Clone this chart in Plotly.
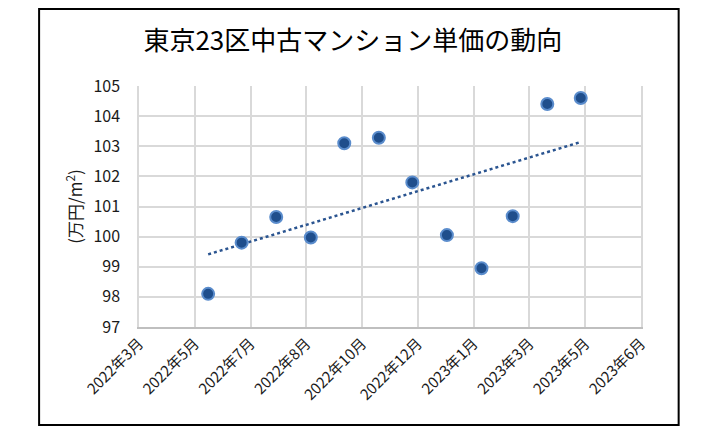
import numpy as np
import pandas as pd
import plotly.graph_objects as go

# monthly unit price (万円/m2), Tokyo 23 wards second-hand condos
months = ["2022-06-01", "2022-07-01", "2022-08-01", "2022-09-01", "2022-10-01", "2022-11-01",
          "2022-12-01", "2023-01-01", "2023-02-01", "2023-03-01", "2023-04-01", "2023-05-01"]
prices = [98.1, 99.8, 100.65, 99.97, 103.1, 103.28, 101.8, 100.05, 98.95, 100.68, 104.4, 104.6]

tick_labels = ["2022年3月", "2022年5月", "2022年7月", "2022年8月", "2022年10月",
               "2022年12月", "2023年1月", "2023年3月", "2023年5月", "2023年6月"]
axis_start = "2022-03-31"
tick_step = "50D"

dates = pd.to_datetime(months)
tick_vals = pd.date_range(axis_start, periods=len(tick_labels), freq=tick_step)

# linear trendline like Excel
days = (dates - dates[0]).days.values
slope, icpt = np.polyfit(days, prices, 1)
trend_x = [dates[0], dates[-1]]
trend_y = [icpt, icpt + slope * days[-1]]

font = "Noto Sans CJK JP"

fig = go.Figure()
fig.add_trace(go.Scatter(x=trend_x, y=trend_y, mode="lines",
                         line=dict(color="#2a5490", width=2.5, dash="dot"),
                         hoverinfo="skip"))
fig.add_trace(go.Scatter(x=dates, y=prices, mode="markers",
                         marker=dict(size=12, color="#1f4e8c",
                                     line=dict(color="#5a8ccc", width=2))))

# page body adds an 8px offset, so margins are pulled in by 8
fig.update_layout(
    width=723, height=434,
    margin=dict(l=131, r=90, t=78, b=115),
    paper_bgcolor="white", plot_bgcolor="white",
    showlegend=False,
    font=dict(family=font, color="#1a1a1a"),
    title=dict(text="東京23区中古マンション単価の動向", x=0.477, xanchor="center",
               y=0.925, yanchor="middle", font=dict(size=26, color="black")),
    shapes=[dict(type="rect", xref="paper", yref="paper",
                 x0=-0.199, x1=1.075, y0=-0.407, y1=1.32,
                 line=dict(color="black", width=2), layer="below")],
)
fig.update_xaxes(
    type="date", range=[tick_vals[0], tick_vals[-1]],
    tickvals=tick_vals, ticktext=tick_labels, tickangle=-45,
    tickfont=dict(size=15, color="#1a1a1a"),
    showgrid=True, gridcolor="#d9d9d9", gridwidth=1.5,
    showline=True, linecolor="#bfbfbf", linewidth=1.5,
    ticks="", zeroline=False,
)
fig.update_yaxes(
    range=[97, 105], dtick=1,
    tickfont=dict(size=16, color="#1a1a1a"),
    showgrid=True, gridcolor="#d9d9d9", gridwidth=1.5,
    showline=True, linecolor="#d9d9d9", linewidth=1.5, mirror=True,
    ticks="outside", ticklen=14, tickcolor="rgba(0,0,0,0)",
    zeroline=False,
    title=dict(text="(万円/m<sup>2</sup>)", font=dict(size=17, color="#1a1a1a"), standoff=6),
)

fig.write_html("out.html")
